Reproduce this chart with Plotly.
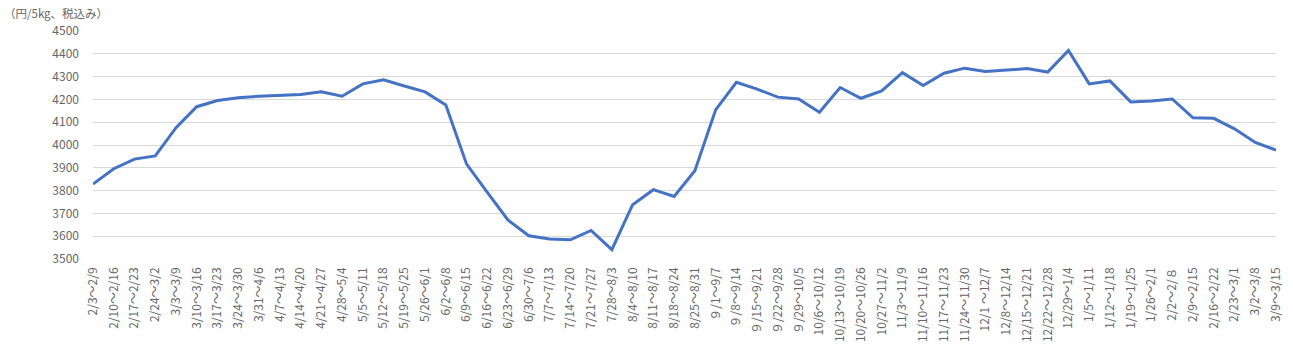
import plotly.graph_objects as go

weeks = [
    "2/3〜2/9", "2/10〜2/16", "2/17〜2/23", "2/24〜3/2", "3/3〜3/9", "3/10〜3/16",
    "3/17〜3/23", "3/24〜3/30", "3/31〜4/6", "4/7〜4/13", "4/14〜4/20", "4/21〜4/27",
    "4/28〜5/4", "5/5〜5/11", "5/12〜5/18", "5/19〜5/25", "5/26〜6/1", "6/2〜6/8",
    "6/9〜6/15", "6/16〜6/22", "6/23〜6/29", "6/30〜7/6", "7/7〜7/13", "7/14〜7/20",
    "7/21〜7/27", "7/28〜8/3", "8/4〜8/10", "8/11〜8/17", "8/18〜8/24", "8/25〜8/31",
    "９/1〜9/7", "９/8〜9/14", "９/15〜9/21", "９/22〜9/28", "９/29〜10/5", "10/6〜10/12",
    "10/13〜10/19", "10/20〜10/26", "10/27〜11/2", "11/3〜11/9", "11/10〜11/16", "11/17〜11/23",
    "11/24〜11/30", "12/1 〜12/7", "12/8〜12/14", "12/15〜12/21", "12/22〜12/28", "12/29〜1/4",
    "1/5〜1/11", "1/12〜1/18", "1/19〜1/25", "1/26〜2/1", "2/2〜2/８", "2/9〜2/15",
    "2/16〜2/22", "2/23〜3/1", "3/2〜3/8", "3/9〜3/15",
]

prices = [
    3829, 3896, 3938, 3952, 4076, 4168, 4195, 4207, 4214, 4217, 4221, 4233,
    4214, 4268, 4286, 4259, 4233, 4175, 3916, 3792, 3670, 3602, 3588, 3584,
    3625, 3541, 3738, 3804, 3774, 3887, 4154, 4275, 4245, 4210, 4202, 4144,
    4252, 4205, 4237, 4317, 4261, 4315, 4337, 4322, 4328, 4335, 4320, 4415,
    4268, 4281, 4189, 4193, 4202, 4119, 4117, 4071, 4011, 3978,
]

y_ticks = [3500, 3600, 3700, 3800, 3900, 4000, 4100, 4200, 4300, 4400, 4500]
y_title = "（円/5kg、税込み）"

font_family = "Noto Sans CJK JP"
gray = "#666666"

W, H = 1293, 361
L, R, T, B = 93, 17, 31, 102
plot_h = H - T - B
plot_w = W - L - R

fig = go.Figure()
fig.add_trace(go.Scatter(
    x=weeks, y=prices, mode="lines",
    line=dict(color="#4472C4", width=3),
    hoverinfo="x+y",
))

fig.update_layout(
    width=W, height=H,
    margin=dict(l=L, r=R, t=T, b=B, autoexpand=False),
    paper_bgcolor="white", plot_bgcolor="white",
    showlegend=False,
    font=dict(family=font_family, color=gray, size=12),
    xaxis=dict(
        type="category", tickangle=-90, showgrid=False, showline=False,
        tickfont=dict(size=12, color=gray, family=font_family),
        ticks="", ticklabelstandoff=5, automargin=False,
    ),
    yaxis=dict(
        range=[3500, 4500], tickvals=y_ticks, showgrid=True,
        gridcolor="#D9D9D9", gridwidth=1, zeroline=False, showline=False,
        tickfont=dict(size=12, color=gray, family=font_family),
        ticklabelstandoff=13, automargin=False,
    ),
    annotations=[dict(
        text=y_title, xref="paper", yref="paper",
        x=(2 - L) / plot_w, y=1 + (T - 13) / plot_h,
        xanchor="left", yanchor="middle", showarrow=False,
        font=dict(size=11.5, color=gray, family=font_family),
    )],
)

fig.write_html(
    "out.html",
    config={"displayModeBar": False},
    post_script="document.body.style.margin='0';document.body.style.overflow='hidden';",
)
